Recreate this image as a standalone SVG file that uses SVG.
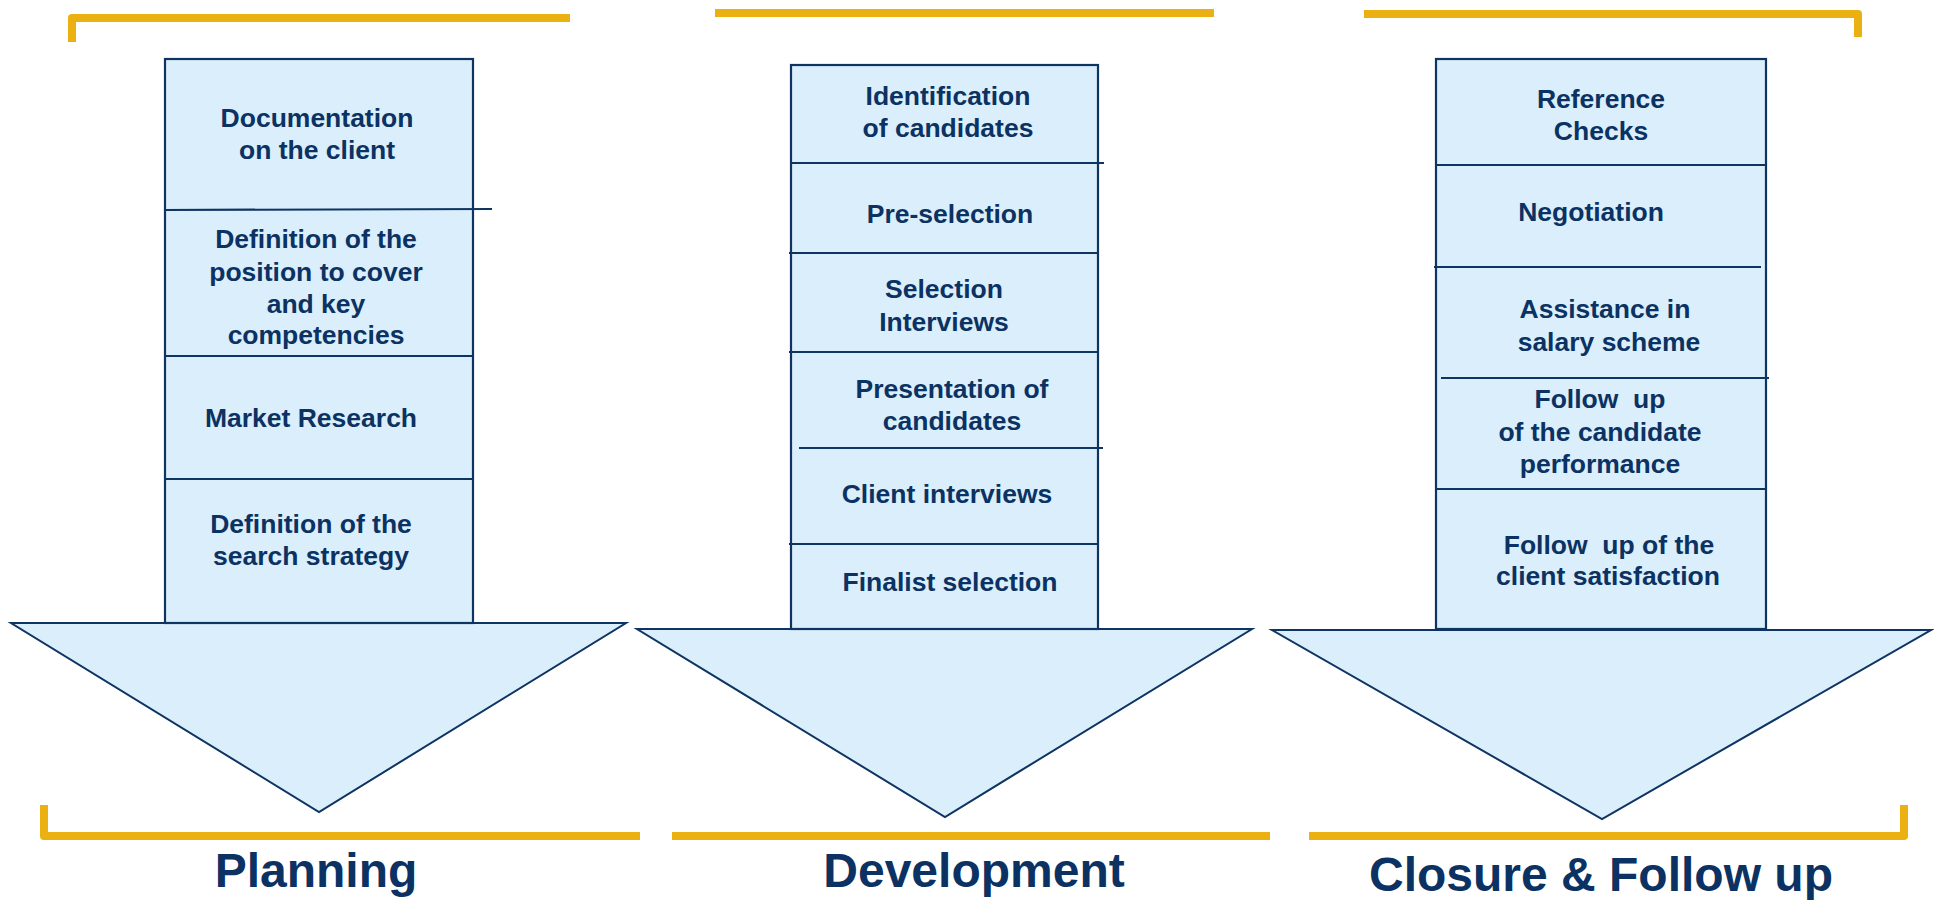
<svg xmlns="http://www.w3.org/2000/svg" width="1934" height="900" viewBox="0 0 1934 900">
<style>
.bg{fill:#ffffff}
.arrow{fill:#DAEEFB;stroke:#0E3461;stroke-width:2;stroke-linejoin:miter}
.box{fill:#DAEEFB;stroke:#0E3461;stroke-width:2.2}
.div{stroke:#0E3461;stroke-width:2.2;fill:none}
.gold{stroke:#EBB012;stroke-width:8;fill:none;stroke-linecap:butt;stroke-linejoin:round}
.t{font-family:"Liberation Sans",Arial,sans-serif;font-weight:bold;font-size:26.5px;fill:#0B3262;text-anchor:middle;white-space:pre}
.title{font-family:"Liberation Sans",Arial,sans-serif;font-weight:bold;font-size:48px;fill:#0B3262;text-anchor:middle}
</style>
<rect class="bg" x="0" y="0" width="1934" height="900"/>

<g id="brackets">
<polyline class="gold" points="72,42 72,18 570,18"/>
<polyline class="gold" points="44,805 44,836 640,836"/>
<line class="gold" x1="715" y1="13" x2="1214" y2="13"/>
<line class="gold" x1="672" y1="836" x2="1270" y2="836"/>
<polyline class="gold" points="1364,14 1858,14 1858,37"/>
<polyline class="gold" points="1309,836 1904,836 1904,805"/>
</g>

<g id="planning">
<polygon class="arrow" points="11,623 626,623 319,812"/>
<rect class="box" x="165" y="59" width="308" height="564"/>
<line class="div" x1="164" y1="210" x2="492" y2="209"/>
<line class="div" x1="165" y1="356" x2="474" y2="356"/>
<line class="div" x1="165" y1="479" x2="473" y2="479"/>
<text class="t" x="317" y="127">Documentation</text>
<text class="t" x="317" y="159">on the client</text>
<text class="t" x="316" y="248">Definition of the</text>
<text class="t" x="316" y="281">position to cover</text>
<text class="t" x="316" y="313">and key</text>
<text class="t" x="316" y="344">competencies</text>
<text class="t" x="311" y="427">Market Research</text>
<text class="t" x="311" y="533">Definition of the</text>
<text class="t" x="311" y="565">search strategy</text>
<text class="title" x="316" y="887">Planning</text>
</g>

<g id="development">
<polygon class="arrow" points="637,629 1252,629 945,817"/>
<rect class="box" x="791" y="65" width="307" height="564"/>
<line class="div" x1="791" y1="163" x2="1104" y2="163"/>
<line class="div" x1="789" y1="253" x2="1098" y2="253"/>
<line class="div" x1="789" y1="352" x2="1098" y2="352"/>
<line class="div" x1="799" y1="448" x2="1103" y2="448"/>
<line class="div" x1="789" y1="544" x2="1098" y2="544"/>
<text class="t" x="948" y="105">Identification</text>
<text class="t" x="948" y="137">of candidates</text>
<text class="t" x="950" y="223">Pre-selection</text>
<text class="t" x="944" y="298">Selection</text>
<text class="t" x="944" y="331">Interviews</text>
<text class="t" x="952" y="398">Presentation of</text>
<text class="t" x="952" y="430">candidates</text>
<text class="t" x="947" y="503">Client interviews</text>
<text class="t" x="950" y="591">Finalist selection</text>
<text class="title" x="974" y="887">Development</text>
</g>

<g id="closure">
<polygon class="arrow" points="1272,630 1931,630 1602,819"/>
<rect class="box" x="1436" y="59" width="330" height="570"/>
<line class="div" x1="1436" y1="165" x2="1766" y2="165"/>
<line class="div" x1="1434" y1="267" x2="1761" y2="267"/>
<line class="div" x1="1441" y1="378" x2="1769" y2="378"/>
<line class="div" x1="1436" y1="489" x2="1767" y2="489"/>
<text class="t" x="1601" y="108">Reference</text>
<text class="t" x="1601" y="140">Checks</text>
<text class="t" x="1591" y="221">Negotiation</text>
<text class="t" x="1605" y="318">Assistance in</text>
<text class="t" x="1609" y="351">salary scheme</text>
<text class="t" x="1600" y="408">Follow  up</text>
<text class="t" x="1600" y="441">of the candidate</text>
<text class="t" x="1600" y="473">performance</text>
<text class="t" x="1609" y="554">Follow  up of the</text>
<text class="t" x="1608" y="585">client satisfaction</text>
<text class="title" x="1601" y="891">Closure &amp; Follow up</text>
</g>
</svg>
